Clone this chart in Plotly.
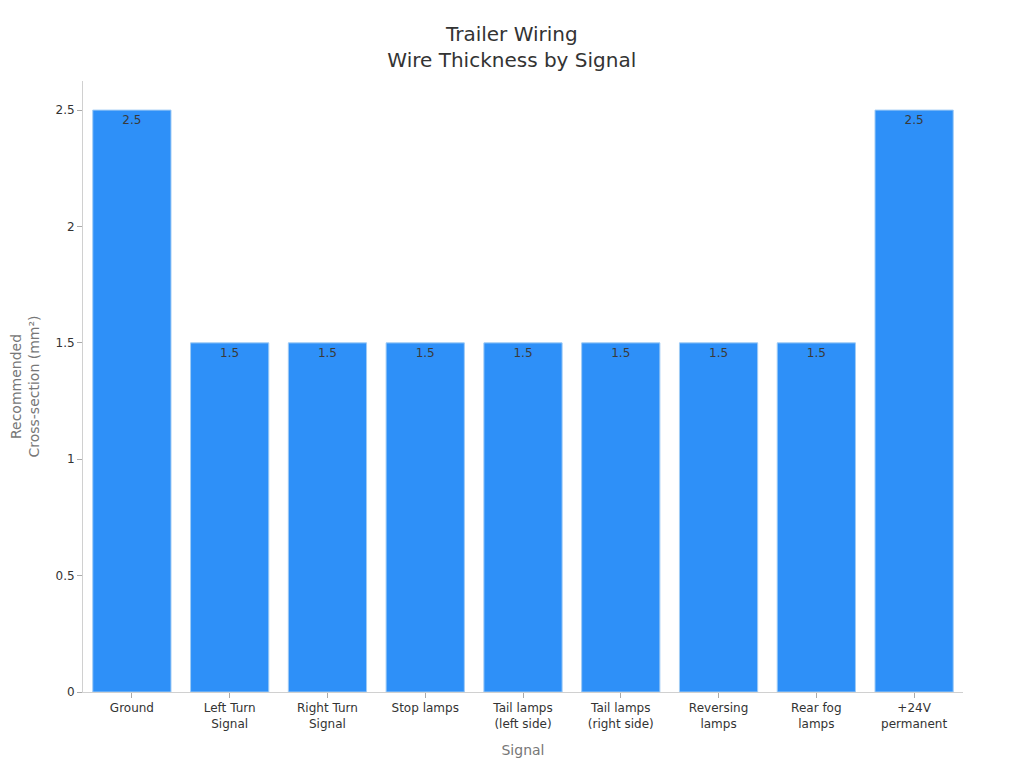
import plotly.graph_objects as go

categories = ["Ground", "Left Turn<br>Signal", "Right Turn<br>Signal", "Stop lamps",
              "Tail lamps<br>(left side)", "Tail lamps<br>(right side)", "Reversing<br>lamps",
              "Rear fog<br>lamps", "+24V<br>permanent"]
values = [2.5, 1.5, 1.5, 1.5, 1.5, 1.5, 1.5, 1.5, 2.5]
labels = ["2.5", "1.5", "1.5", "1.5", "1.5", "1.5", "1.5", "1.5", "2.5"]

fig = go.Figure(go.Bar(
    x=categories, y=values, text=labels, textposition="inside",
    insidetextanchor="end",
    textfont=dict(color="#3a3a3a", size=12),
    marker=dict(color="#2E90F8", line=dict(color="#9FCBF5", width=1)),
))

fig.update_layout(
    width=1024, height=768,
    font=dict(family="DejaVu Sans", color="#333333"),
    title=dict(text="Trailer Wiring<br>Wire Thickness by Signal", x=0.492, xanchor="center",
               y=0.957, yanchor="top", font=dict(size=20, color="#333333")),
    plot_bgcolor="white", paper_bgcolor="white",
    margin=dict(l=75, r=69, t=73, b=84, autoexpand=False),
    bargap=0.2,
    showlegend=False,
)
fig.update_xaxes(
    title=dict(text="Signal", font=dict(size=14, color="#777777"), standoff=15),
    showline=True, linecolor="#D0D0D0", linewidth=1,
    ticks="outside", tickcolor="#AAAAAA", ticklen=5,
    tickfont=dict(size=12, color="#333333"), showgrid=False,
)
fig.update_yaxes(
    title=dict(text="Recommended<br>Cross-section (mm²)", font=dict(size=14, color="#777777"), standoff=19),
    range=[0, 2.625], tickvals=[0, 0.5, 1, 1.5, 2, 2.5], ticktext=["0", "0.5", "1", "1.5", "2", "2.5"],
    showline=True, linecolor="#D0D0D0", linewidth=1,
    ticks="outside", tickcolor="#AAAAAA", ticklen=5,
    tickfont=dict(size=12, color="#333333"), showgrid=False, zeroline=False,
)

fig.write_html("out.html")
